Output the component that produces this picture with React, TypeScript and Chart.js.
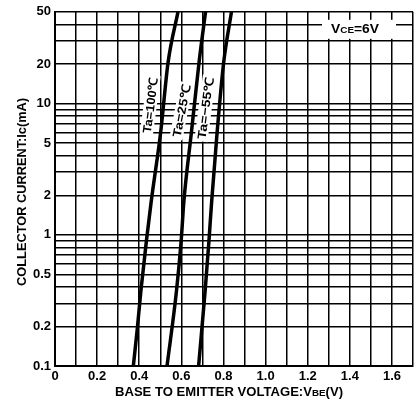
import React, { useEffect, useRef } from "react";
import { Chart, registerables } from "chart.js";

Chart.register(...registerables);

// ---- data ----
const VBE_100 = [0.372, 0.39, 0.408, 0.434, 0.457, 0.502, 0.537, 0.584];
const IC_100 = [0.1, 0.187, 0.375, 0.896, 1.8, 6.08, 20.6, 50];

const VBE_25 = [0.532, 0.577, 0.599, 0.612, 0.648, 0.684, 0.715];
const IC_25 = [0.1, 0.375, 0.896, 1.8, 6.08, 20.6, 50];

const VBE_M55 = [0.682, 0.713, 0.731, 0.744, 0.77, 0.801, 0.838];
const IC_M55 = [0.1, 0.375, 0.896, 1.8, 6.08, 20.6, 50];

const SERIES_NAMES = ["Ta=100℃", "Ta=25℃", "Ta=−55℃"];

const X_GRID = [0, 0.1, 0.2, 0.3, 0.4, 0.5, 0.6, 0.7, 0.8, 0.9, 1.0, 1.1, 1.2, 1.3, 1.4, 1.5, 1.6, 1.7];
const X_TICK_LABELS = ["0", "0.2", "0.4", "0.6", "0.8", "1.0", "1.2", "1.4", "1.6"];

const Y_GRID = [
  0.1, 0.2, 0.3, 0.4, 0.5, 0.6, 0.7, 0.8, 0.9,
  1, 2, 3, 4, 5, 6, 7, 8, 9,
  10, 20, 30, 40, 50,
];
const Y_TICK_LABELS = ["0.1", "0.2", "0.5", "1", "2", "5", "10", "20", "50"];

const X_MIN = 0;
const X_MAX = 1.7;
const Y_MIN = 0.1;
const Y_MAX = 50;

// curve label anchors (data units)
const CURVE_LABEL_V = [0.452, 0.6, 0.713];
const CURVE_LABEL_I = [9.7, 8.8, 9.2];

const FONT = '"Liberation Sans", Arial, Helvetica, sans-serif';

type Part = [string, number];

function drawParts(
  ctx: CanvasRenderingContext2D,
  parts: Part[],
  cx: number,
  cy: number,
  angleDeg: number,
  targetLen: number,
  size: number,
  bg: boolean
) {
  ctx.save();
  ctx.translate(cx, cy);
  ctx.rotate((angleDeg * Math.PI) / 180);
  let w = 0;
  const widths = parts.map(([t, s]) => {
    ctx.font = `bold ${size * s}px ${FONT}`;
    const m = ctx.measureText(t).width;
    w += m;
    return m;
  });
  const sx = targetLen > 0 ? targetLen / w : 1;
  ctx.scale(sx, 1);
  if (bg) {
    ctx.fillStyle = "#fff";
    ctx.fillRect(-w / 2 - 2, -size * 0.55, w + 4, size * 1.1);
  }
  ctx.fillStyle = "#000";
  ctx.textBaseline = "alphabetic";
  ctx.textAlign = "left";
  let x = -w / 2;
  const base = size * 0.36;
  parts.forEach(([t, s], k) => {
    ctx.font = `bold ${size * s}px ${FONT}`;
    ctx.fillText(t, x, base);
    x += widths[k];
  });
  ctx.restore();
}

const annotations = {
  id: "annotations",
  beforeDatasetsDraw(chart: any) {
    const ctx = chart.ctx as CanvasRenderingContext2D;
    const xs = chart.scales.x;
    const ys = chart.scales.y;
    const area = chart.chartArea;
    // VCE box
    ctx.save();
    ctx.fillStyle = "#fff";
    ctx.fillRect(area.right - 91, area.top + 8, 74, 19);
    ctx.restore();
    drawParts(
      ctx,
      [["V", 1], ["CE", 0.72], ["=6V", 1]],
      area.right - 58,
      area.top + 17,
      0,
      48,
      12.5,
      false
    );
    // curve labels
    const lens = [56, 53, 62];
    const angs = [-82.5, -79, -82.5];
    SERIES_NAMES.forEach((name, k) => {
      const px = xs.getPixelForValue(CURVE_LABEL_V[k]);
      const py = ys.getPixelForValue(CURVE_LABEL_I[k]);
      drawParts(ctx, [[name, 1]], px, py, angs[k], lens[k], 12, true);
    });
  },
  afterDraw(chart: any) {
    const ctx = chart.ctx as CanvasRenderingContext2D;
    const area = chart.chartArea;
    drawParts(
      ctx,
      [["BASE TO EMITTER VOLTAGE:V", 1], ["BE", 0.75], ["(V)", 1]],
      (area.left + area.right) / 2 - 5,
      area.bottom + 25,
      0,
      228,
      13,
      false
    );
    drawParts(
      ctx,
      [["COLLECTOR CURRENT:Ic(mA)", 1]],
      21,
      (area.top + area.bottom) / 2 + 3,
      -90,
      188,
      13,
      false
    );
  },
};

export default function App() {
  const ref = useRef<HTMLCanvasElement | null>(null);

  useEffect(() => {
    document.body.style.margin = "0";
    const canvas = ref.current;
    if (!canvas) return;

    const mk = (v: number[], i: number[]) => v.map((x, k) => ({ x, y: i[k] }));

    const ds = [mk(VBE_100, IC_100), mk(VBE_25, IC_25), mk(VBE_M55, IC_M55)].map(
      (data, k) => ({
        label: SERIES_NAMES[k],
        data,
        borderColor: "#000",
        backgroundColor: "#000",
        borderWidth: 3.5,
        pointRadius: 0,
        cubicInterpolationMode: "monotone" as const,
        fill: false,
      })
    );

    const chart = new Chart(canvas, {
      type: "line",
      data: { datasets: ds },
      options: {
        animation: false,
        responsive: false,
        devicePixelRatio: 1,
        layout: { padding: { top: 9, right: 2, left: 0, bottom: 0 } },
        plugins: {
          legend: { display: false },
          tooltip: { enabled: false },
        },
        scales: {
          x: {
            type: "linear",
            min: X_MIN,
            max: X_MAX,
            afterBuildTicks: (scale: any) => {
              scale.ticks = X_GRID.map((v) => ({ value: v }));
            },
            afterFit: (scale: any) => {
              scale.height = 37;
            },
            ticks: {
              autoSkip: false,
              maxRotation: 0,
              minRotation: 0,
              padding: 3,
              color: "#000",
              font: { family: FONT, size: 13, weight: "bold" },
              callback: (value: any) => {
                const v = Number(value);
                const lab = X_TICK_LABELS.find((l) => Math.abs(parseFloat(l) - v) < 1e-6);
                return lab ?? "";
              },
            },
            grid: {
              color: "#000",
              lineWidth: 1.5,
              drawTicks: false,
            },
            border: { color: "#000", width: 2 },
          },
          y: {
            type: "logarithmic",
            min: Y_MIN,
            max: Y_MAX,
            afterBuildTicks: (scale: any) => {
              scale.ticks = Y_GRID.map((v) => ({ value: v }));
            },
            afterFit: (scale: any) => {
              scale.width = 55;
            },
            ticks: {
              autoSkip: false,
              padding: 4,
              color: "#000",
              font: { family: FONT, size: 13, weight: "bold" },
              callback: (value: any) => {
                const v = Number(value);
                const lab = Y_TICK_LABELS.find((l) => Math.abs(parseFloat(l) - v) < 1e-9);
                return lab ?? "";
              },
            },
            grid: {
              color: "#000",
              lineWidth: 1.5,
              drawTicks: false,
            },
            border: { color: "#000", width: 2 },
          },
        },
      },
      plugins: [annotations],
    });

    return () => chart.destroy();
  }, []);

  return (
    <div style={{ position: "absolute", left: 0, top: 0, width: 416, height: 403 }}>
      <canvas ref={ref} width={416} height={403} />
    </div>
  );
}
